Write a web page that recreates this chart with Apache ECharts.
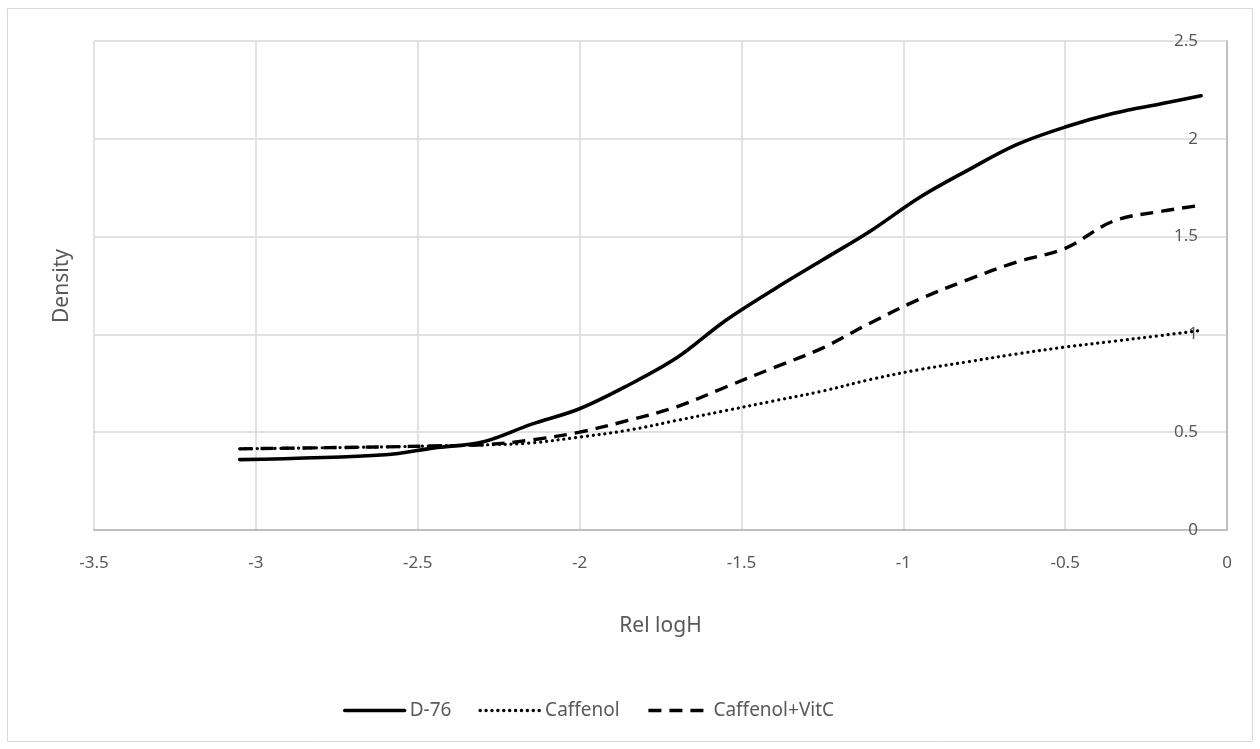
<!DOCTYPE html>
<html>
<head>
<meta charset="utf-8">
<script src="https://cdn.jsdelivr.net/npm/echarts@6/dist/echarts.min.js"></script>
<style>
  html, body { margin: 0; padding: 0; background: #fff; }
  #chart { width: 1260px; height: 749px; }
</style>
</head>
<body>
<div id="chart"></div>
<script>
// Rel logH steps
var logH = [-3.05, -2.6, -2.45, -2.3, -2.15, -2.0, -1.85, -1.7, -1.55, -1.4,
            -1.25, -1.1, -0.95, -0.8, -0.65, -0.5, -0.35, -0.2, -0.08];
var d76 = [0.36, 0.385, 0.42, 0.45, 0.54, 0.62, 0.74, 0.88, 1.07, 1.23,
           1.38, 1.53, 1.70, 1.84, 1.97, 2.06, 2.13, 2.18, 2.22];
var caffenol = [0.415, 0.425, 0.43, 0.435, 0.445, 0.475, 0.51, 0.56, 0.61, 0.66,
                0.71, 0.77, 0.82, 0.86, 0.90, 0.935, 0.965, 0.995, 1.02];
var caffenolVitC = [0.415, 0.425, 0.43, 0.435, 0.46, 0.50, 0.56, 0.63, 0.73, 0.83,
                    0.93, 1.06, 1.18, 1.28, 1.37, 1.44, 1.58, 1.63, 1.66];
var seriesNames = ['D-76', 'Caffenol', 'Caffenol+VitC'];

function pairs(ys) {
  return logH.map(function (x, i) { return [x, ys[i]]; });
}

var font = 'Noto Sans';
var textGray = '#595959';

var chart = echarts.init(document.getElementById('chart'));
var option = {
  backgroundColor: '#fff',
  animation: false,
  textStyle: { fontFamily: font },
  graphic: [
    {
      type: 'rect',
      shape: { x: 7.5, y: 8.5, width: 1245, height: 733 },
      style: { fill: 'none', stroke: '#d9d9d9', lineWidth: 1 }
    },
    {
      type: 'text',
      x: 62, y: 286,
      rotation: Math.PI / 2,
      style: {
        text: 'Density', fill: textGray, font: '21px "Noto Sans"',
        align: 'center', verticalAlign: 'middle'
      }
    }
  ],
  grid: { left: 94, right: 33, top: 41, bottom: 219 },
  legend: {
    bottom: 24,
    left: 338,
    itemWidth: 60,
    itemHeight: 14,
    itemGap: 27,
    itemStyle: { opacity: 0 },
    lineStyle: { width: 3.4 },
    textStyle: { fontSize: 19, color: textGray, fontFamily: font },
    data: seriesNames
  },
  xAxis: {
    type: 'value',
    min: -3.5, max: 0, interval: 0.5,
    name: 'Rel logH',
    nameLocation: 'middle',
    nameGap: 86,
    nameTextStyle: { fontSize: 21, color: textGray },
    axisLine: { show: true, onZero: false, lineStyle: { color: '#bfbfbf', width: 2 } },
    axisTick: { show: false },
    axisLabel: { fontSize: 17, color: textGray, margin: 25 },
    splitLine: { show: true, lineStyle: { color: '#d9d9d9', width: 1.5 } }
  },
  yAxis: {
    type: 'value',
    position: 'right',
    min: 0, max: 2.5, interval: 0.5,
    axisLine: { show: true, lineStyle: { color: '#bfbfbf', width: 2 } },
    axisTick: { show: false },
    axisLabel: { inside: true, fontSize: 17, color: textGray, margin: 29 },
    splitLine: { show: true, lineStyle: { color: '#d9d9d9', width: 1.5 } }
  },
  series: [
    {
      name: seriesNames[0], type: 'line', data: pairs(d76),
      smooth: 0.35, symbol: 'none', z: 3,
      lineStyle: { color: '#000', width: 3.6, cap: 'round' },
      itemStyle: { color: '#000' }
    },
    {
      name: seriesNames[1], type: 'line', data: pairs(caffenol),
      smooth: 0.35, symbol: 'none', z: 2,
      lineStyle: { color: '#000', width: 3.2, type: [0.1, 5.8], cap: 'round' },
      itemStyle: { color: '#000' }
    },
    {
      name: seriesNames[2], type: 'line', data: pairs(caffenolVitC),
      smooth: 0.35, symbol: 'none', z: 2,
      lineStyle: { color: '#000', width: 3.4, type: [13, 8] },
      itemStyle: { color: '#000' }
    }
  ]
};
chart.setOption(option);
</script>
</body>
</html>
